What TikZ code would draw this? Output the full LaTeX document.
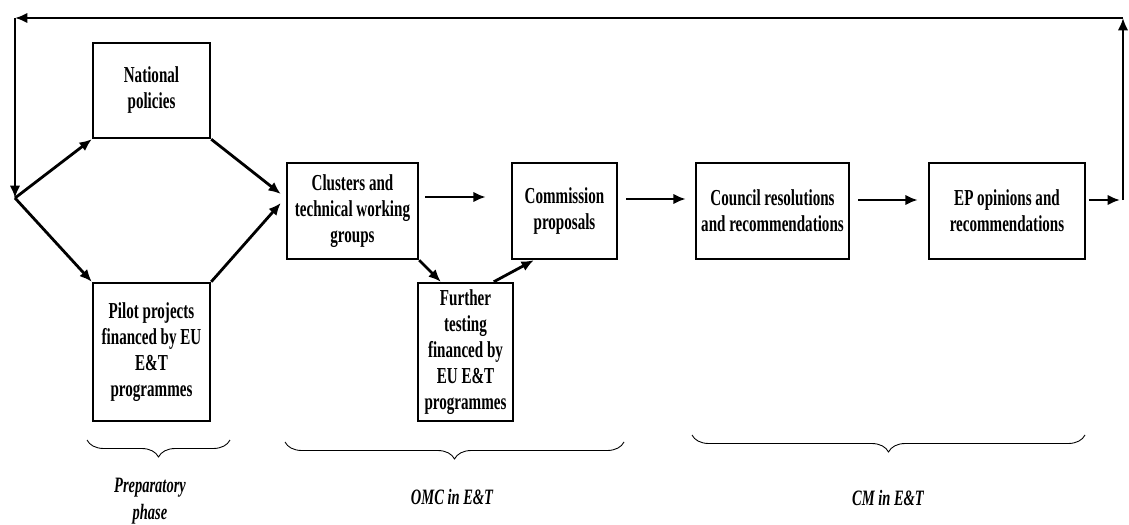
\documentclass[tikz,border=0pt]{standalone}
\usepackage{fontspec}
\setmainfont{Liberation Serif}[FakeStretch=0.66]
\usetikzlibrary{arrows.meta,calc,decorations.pathreplacing}

\tikzset{
  box/.style={draw, line width=1.4pt, inner sep=0pt, align=center,
              font=\bfseries\fontsize{13}{14.8}\selectfont},
  arr/.style={-{Latex[length=7pt,width=6pt]}, line width=1.6pt},
  phase/.style={align=center, font=\bfseries\itshape\fontsize{12.5}{15}\selectfont},
  brc/.style={decorate, decoration={brace, mirror, amplitude=0.34cm}, line width=0.5pt}
}

\begin{document}
\begin{tikzpicture}[x=0.02cm, y=-0.02cm]
            \useasboundingbox (0,0) rectangle (1129,524);
            % boxes
            \node[box, minimum width=2.34cm, minimum height=1.90cm] (natpol)     at (151.5, 90.5) {National\\policies};
            \node[box, minimum width=2.34cm, minimum height=2.76cm] (pilot)      at (151.5,352.0) {Pilot projects\\financed by EU\\E\&T\\programmes};
            \node[box, minimum width=2.62cm, minimum height=1.92cm] (clusters)   at (352.5,211.0) {Clusters and\\technical working\\groups};
            \node[box, minimum width=2.10cm, minimum height=1.92cm] (commission) at (564.5,211.0) {Commission\\proposals};
            \node[box, minimum width=1.90cm, minimum height=2.76cm] (further)    at (465.5,352.0) {Further\\testing\\financed by\\EU E\&T\\programmes};
            \node[box, minimum width=3.06cm, minimum height=1.92cm] (council)    at (772.5,211.0) {Council resolutions\\and recommendations};
            \node[box, minimum width=3.12cm, minimum height=1.92cm] (ep)         at (1007.0,211.0) {EP opinions and\\recommendations};
            % loop corners
            \coordinate (split) at (15,198);
            \coordinate (tl)    at (15,18);
            \coordinate (tr)    at (1123,18);
            \coordinate (rt)    at (1123,200);
            % connectors
            \draw[arr] (split) -- (natpol.south west);
            \draw[arr] (split) -- (pilot.north west);
            \draw[arr] (natpol.south east) -- ($(clusters.west)+(-5,-17)$);
            \draw[arr] (pilot.north east) -- ($(clusters.west)+(-5,-8)$);
            \draw[arr] ($(clusters.east)+(6,-14)$) -- ($(commission.west)+(-25,-14)$);
            \draw[arr] (clusters.south east) -- ($(further.north west)+(24,0)$);
            \draw[arr] ($(further.north west)+(77,0)$) -- ($(commission.south west)+(23,0)$);
            \draw[arr] ($(commission.east)+(8,-12)$) -- ($(council.west)+(-9,-12)$);
            \draw[arr] ($(council.east)+(8,-11)$) -- ($(ep.west)+(-10,-11)$);
            \draw[arr] ($(ep.east)+(3,-11)$) -- ($(rt)+(-3,0)$);
            \draw[arr, line width=1.3pt] (rt) -- (tr);
            \draw[arr, line width=1.3pt] (tr) -- (tl);
            \draw[arr, line width=1.3pt] (tl) -- (split);
            % phases
            \draw[brc] (87,440) -- (230,440);
            \draw[brc] (285,442) -- (624,442);
            \draw[brc] (692,435) -- (1085,435);
            \node[phase] (prep) at (150,501) {Preparatory\\phase};
            \node[phase] (omc)  at (452,497) {OMC in E\&T};
            \node[phase] (cm)   at (888,498) {CM in E\&T};
            \end{tikzpicture}
\end{document}
